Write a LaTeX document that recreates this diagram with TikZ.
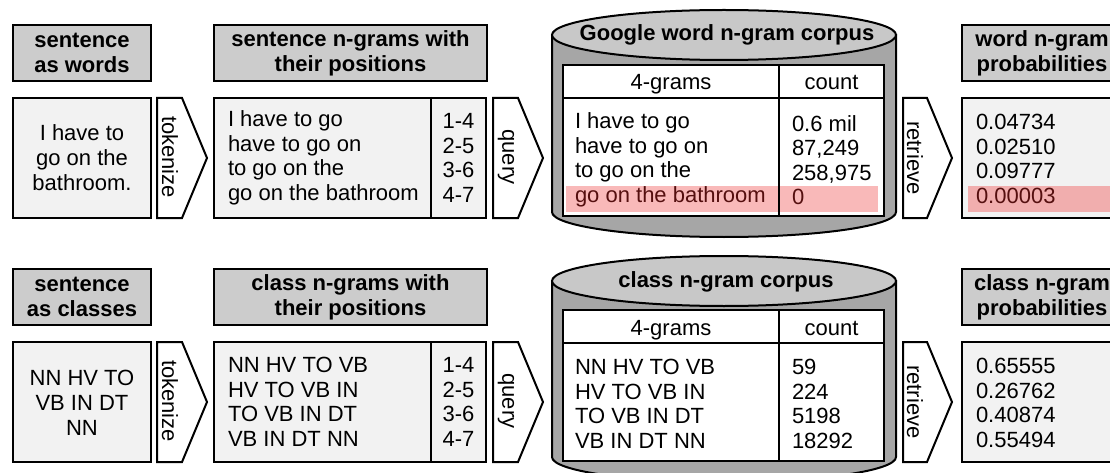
\documentclass[tikz,border=0pt]{standalone}
\usepackage{fontspec}
\setmainfont{Liberation Sans}
\definecolor{hdrgray}{RGB}{204,204,204}
\definecolor{boxgray}{RGB}{242,242,242}
\definecolor{cylside}{RGB}{166,166,166}
\definecolor{cyltop}{RGB}{200,200,200}
\definecolor{hlpink}{RGB}{249,185,185}
\definecolor{hlpinkb}{RGB}{241,174,174}
\definecolor{hltext}{RGB}{85,15,15}
\begin{document}
\begin{tikzpicture}[x=1pt,y=-1pt,line width=2pt,
  hdr/.style={draw,fill=hdrgray,font=\bfseries\fontsize{22}{25}\selectfont,align=center,inner sep=0pt},
  inbox/.style={draw,fill=boxgray,inner sep=0pt},
  txt/.style={font=\fontsize{22}{24.5}\selectfont,align=left,inner sep=0pt},
  ctxt/.style={font=\fontsize{22}{25}\selectfont,align=center,inner sep=0pt},
  vtxt/.style={font=\fontsize{22}{24}\selectfont,rotate=-90,inner sep=0pt},
  lbl/.style={font=\fontsize{22}{24}\selectfont,inner sep=0pt,anchor=base},
  arrowshape/.style={draw,fill=white,line join=miter},
  tablebox/.style={draw,fill=white,inner sep=0pt},
  hl/.style={fill=hlpink,draw=none},
  hlb/.style={fill=hlpinkb,draw=none}]
\clip (0,0) rectangle (1110,473);
\fill[white] (0,0) rectangle (1110,473);

% ================= top row =================
\node[hdr,minimum width=138pt,minimum height=56pt] (h1) at (82,53) {sentence\\as words};
\node[inbox,minimum width=138pt,minimum height=120pt] (in1) at (82,158) {};
\node[ctxt] (in1t) at (82,158) {I have to\\go on the\\bathroom.};

\draw[arrowshape] (157,98) -- (182,98) -- (207,158) -- (182,218) -- (157,218) -- cycle;
\node[vtxt] (tok1) at (170,157) {tokenize};

\node[hdr,minimum width=273pt,minimum height=56pt] (h2) at (350.5,53) {sentence n-grams with\\their positions};
\node[inbox,minimum width=272pt,minimum height=120pt] (ng1) at (350,158) {};
\draw (ng1.north west -| 431,0) coordinate (d1a) -- (ng1.south west -| 431,0) coordinate (d1b);
\node[txt,anchor=west] (ng1t) at (227,158) {I have to go\\have to go on\\to go on the\\go on the bathroom};
\node[txt,align=center] (pos1) at (458.5,158) {1-4\\2-5\\3-6\\4-7};

\draw[arrowshape] (493,98) -- (518,98) -- (543,158) -- (518,218) -- (493,218) -- cycle;
\node[vtxt] (qry1) at (506,157) {query};

% cylinder
\draw[fill=cylside] (552,35) -- (552,212) arc[start angle=180,end angle=360,x radius=172pt,y radius=25pt] -- (896,35) -- cycle;
\draw[fill=cyltop] (724,35) ellipse[x radius=172pt,y radius=25pt];
\node[font=\bfseries\fontsize{22}{24}\selectfont,inner sep=0pt] (cyl1) at (727,35) {Google word n-gram corpus};
\node[tablebox,minimum width=321pt,minimum height=151pt] (tab1) at (723.5,140.5) {};
\fill[hl] (566,186) rectangle (878,212);
\draw (563,98) -- (884,98);
\draw (779,65) -- (779,216);
\node[lbl] (g1h) at (671,90) {4-grams};
\node[lbl] (c1h) at (831.5,90) {count};
\node[txt,anchor=west] (g1t) at (574,160) {I have to go\\have to go on\\to go on the\\\textcolor{hltext}{go on the bathroom}};
\node[txt,anchor=west] (c1t) at (791,160) {0.6 mil\\87,249\\258,975\\\textcolor{hltext}{0}};

\draw[arrowshape] (903,98) -- (927,98) -- (952,158) -- (927,218) -- (903,218) -- cycle;
\node[vtxt] (ret1) at (915,158) {retrieve};

\node[hdr,minimum width=160pt,minimum height=56pt] (h4) at (1042,53) {word n-gram\\probabilities};
\node[inbox,minimum width=160pt,minimum height=120pt] (pr1) at (1042,158) {};
\fill[hlb] (968,186) rectangle (1130,212);
\node[txt,anchor=west] (pr1t) at (975,159) {0.04734\\0.02510\\0.09777\\\textcolor{hltext}{0.00003}};

% ================= bottom row =================
\node[hdr,minimum width=138pt,minimum height=56pt] (h1b) at (82,297) {sentence\\as classes};
\node[inbox,minimum width=138pt,minimum height=120pt] (in2) at (82,402) {};
\node[ctxt] (in2t) at (82,403) {NN HV TO\\VB IN DT\\NN};

\draw[arrowshape] (157,342) -- (182,342) -- (207,402) -- (182,462) -- (157,462) -- cycle;
\node[vtxt] (tok2) at (170,401) {tokenize};

\node[hdr,minimum width=273pt,minimum height=56pt] (h2b) at (350.5,297) {class n-grams with\\their positions};
\node[inbox,minimum width=272pt,minimum height=120pt] (ng2) at (350,402) {};
\draw (ng2.north west -| 431,0) coordinate (d2a) -- (ng2.south west -| 431,0) coordinate (d2b);
\node[txt,anchor=west] (ng2t) at (227,402) {NN HV TO VB\\HV TO VB IN\\TO VB IN DT\\VB IN DT NN};
\node[txt,align=center] (pos2) at (458.5,402) {1-4\\2-5\\3-6\\4-7};

\draw[arrowshape] (493,342) -- (518,342) -- (543,402) -- (518,462) -- (493,462) -- cycle;
\node[vtxt] (qry2) at (506,401) {query};

\draw[fill=cylside] (552,281) -- (552,457) arc[start angle=180,end angle=360,x radius=172pt,y radius=25pt] -- (896,281) -- cycle;
\draw[fill=cyltop] (724,281) ellipse[x radius=172pt,y radius=25pt];
\node[font=\bfseries\fontsize{22}{24}\selectfont,inner sep=0pt] (cyl2) at (726,282) {class n-gram corpus};
\node[tablebox,minimum width=321pt,minimum height=151pt] (tab2) at (723.5,385.5) {};
\draw (563,343) -- (884,343);
\draw (779,310) -- (779,461);
\node[lbl] (g2h) at (671,335) {4-grams};
\node[lbl] (c2h) at (831.5,335) {count};
\node[txt,anchor=west] (g2t) at (574,404) {NN HV TO VB\\HV TO VB IN\\TO VB IN DT\\VB IN DT NN};
\node[txt,anchor=west] (c2t) at (791,404) {59\\224\\5198\\18292};

\draw[arrowshape] (903,342) -- (927,342) -- (952,402) -- (927,462) -- (903,462) -- cycle;
\node[vtxt] (ret2) at (915,402) {retrieve};

\node[hdr,minimum width=160pt,minimum height=56pt] (h4b) at (1042,297) {class n-gram\\probabilities};
\node[inbox,minimum width=160pt,minimum height=120pt] (pr2) at (1042,402) {};
\node[txt,anchor=west] (pr2t) at (975,403) {0.65555\\0.26762\\0.40874\\0.55494};
\end{tikzpicture}
\end{document}
